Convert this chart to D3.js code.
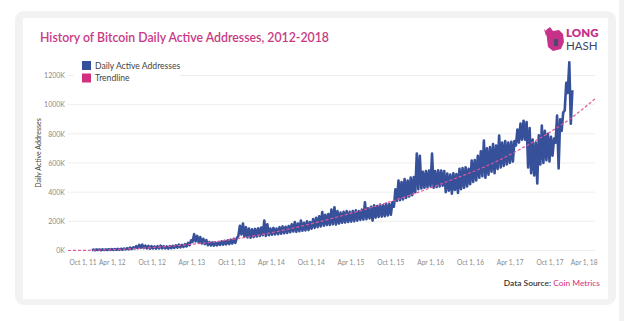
<!DOCTYPE html>
<html>
<head>
<meta charset="utf-8">
<script src="https://cdn.jsdelivr.net/npm/d3@7/dist/d3.min.js"></script>
<style>
  html, body { margin: 0; padding: 0; background: #ffffff; }
  svg { display: block; }
</style>
</head>
<body>
<svg id="chart" width="624" height="321"></svg>
<script>
// Daily active addresses (thousands), sampled as two readings per fortnight
// starting 1 Jan 2012: the fortnight's low, then its high a week later.
const fortnightLow = [
  2,2,3,2,3,3,4, 4,5,5,6, 7,8,10, 14,16,18,16, 14,12,14,13,15, 14,15,13,16,
  18,20,22,24, 28,36, 60, 62,55, 48,44, 36,34,33,35, 38,40,42,45,48,52,
  100,110, 95,90,88,92,96,100, 105,100, 105,108,110, 112,115,118,120,
  125,130,128,132,135,138,140, 150,155,160,165,170,175,
  175,180,178,185,190,192, 195,198,200,205,210,212,215,
  220,205,225,230,232,235,240,245, 300,340, 345,350,360,370,380,
  400,420, 425,430,435,440,430,435,440,445, 400,410,390,415,
  395,420,430,440,455, 470,480,500,510, 500,520,540,530,560,570,580,
  590,600,610, 720,740,760,760, 570, 530,514, 460, 590,600,620,610,
  650, 740, 562,820, 960, 1080, 870
];
const fortnightHigh = [
  6,7,7,8,8,9,10, 10,11,12,14, 16,20,22, 30,38,40,34, 32,30,28,30,33, 30,28,30,32,
  36,40,38,44, 52,70, 112, 100,92, 80,72, 58,55,54,56, 62,66,70,74,80,86,
  170,185, 160,150,145,148,152,158, 205,180, 150,155,150, 160,165,162,168,
  180,195,185,205,190,200,195, 215,225,235,263,245,250,
  280,297,270,260,265,270, 265,270,275,270,280,331,290,
  300,310,305,315,310,320,318,330, 420,480, 470,490,480,500,503,
  665,650, 540,545,548,665,545,550,548,545, 528,520,530,525,
  560,565,570,560,617, 620,650,680,754, 700,710,730,720,788,740,750,
  740,745,750, 830,870,890,880, 840, 760,740, 790, 857,820,800,780,
  767, 925, 900,946, 1150, 1290, 1100
];

// Trendline readings (thousands) at half-year marks
const trendDates = ["2011-09-13","2012-01-01","2012-07-01","2013-01-01","2013-07-01",
  "2014-01-01","2014-07-01","2015-01-01","2015-07-01","2016-01-01","2016-07-01",
  "2017-01-01","2017-07-01","2018-01-01","2018-04-28"];
const trendValues = [0, 2, 12, 30, 57, 97, 150, 218, 293, 380, 480, 590, 730, 900, 1040];

// Axis ticks
const yTicks = [0, 200, 400, 600, 800, 1000, 1200];
const xTickDates = ["2011-10-01","2012-04-01","2012-10-01","2013-04-01","2013-10-01",
  "2014-04-01","2014-10-01","2015-04-01","2015-10-01","2016-04-01","2016-10-01",
  "2017-04-01","2017-10-01","2018-04-01"];

const parse = d3.timeParse("%Y-%m-%d");
const seriesStart = parse("2012-01-01");

const points = [];
fortnightLow.forEach((lo, i) => {
  points.push({ date: d3.timeDay.offset(seriesStart, 14 * i), value: lo });
  points.push({ date: d3.timeDay.offset(seriesStart, 14 * i + 7), value: fortnightHigh[i] });
});
const trend = trendDates.map((d, i) => ({ date: parse(d), value: trendValues[i] }));

const svg = d3.select("#chart");
const FONT = "Lato, 'Open Sans', sans-serif";

// Page background and card
svg.append("rect").attr("x", 619).attr("y", 0).attr("width", 5).attr("height", 321).attr("fill", "#f2f2f2");
svg.append("rect").attr("x", 15).attr("y", 11).attr("width", 601).attr("height", 294)
  .attr("rx", 9).attr("fill", "#f2f2f2");
svg.append("rect").attr("x", 23).attr("y", 18).attr("width", 585).attr("height", 281)
  .attr("fill", "#ffffff");

// Title
svg.append("text")
  .attr("x", 40).attr("y", 42)
  .attr("font-family", FONT)
  .attr("font-size", 12.3).attr("font-weight", 600)
  .attr("fill", "#c83a84")
  .text("History of Bitcoin Daily Active Addresses, 2012-2018");

// Logo
const logo = svg.append("g").attr("transform", "translate(544,27)");
logo.append("path")
  .attr("d", "M2,3 L6,0 L9,4 L15,3 L19,7 L20,15 L17,22 L9,24 L4,20 L3,12 Z")
  .attr("fill", "#c8318a");
logo.append("path").attr("d", "M0,2 L4,6 L2,9 Z").attr("fill", "#c8318a");
logo.append("rect").attr("x", 10).attr("y", 12).attr("width", 4).attr("height", 7).attr("fill", "#4a4a6a");
logo.append("text").attr("x", 22).attr("y", 10)
  .attr("font-family", FONT).attr("font-weight", 800).attr("font-size", 11.5)
  .attr("fill", "#c8318a").text("LONG");
logo.append("text").attr("x", 22).attr("y", 23)
  .attr("font-family", FONT).attr("font-weight", 400).attr("font-size", 11.5)
  .attr("fill", "#3d4566").text("HASH");

// Scales
const x = d3.scaleTime().domain([parse("2011-09-13"), parse("2018-04-28")]).range([68, 595]);
const y = d3.scaleLinear().domain([0, 1200]).range([250.5, 75.5]);

// Gridlines
svg.append("g").selectAll("line").data(yTicks).join("line")
  .attr("x1", 68).attr("x2", 595)
  .attr("y1", d => y(d)).attr("y2", d => y(d))
  .attr("stroke", "#eeeeee").attr("stroke-width", 1);

// Y axis
const yAxis = svg.append("g").attr("transform", "translate(68,0)")
  .call(d3.axisLeft(y).tickValues(yTicks).tickFormat(d => d + "K").tickSize(0).tickPadding(3));
yAxis.select(".domain").remove();
yAxis.selectAll("text").attr("font-family", FONT).attr("font-size", 7).attr("fill", "#8a8a8a");

svg.append("text")
  .attr("transform", "translate(41,153) rotate(-90)")
  .attr("text-anchor", "middle")
  .attr("font-family", FONT).attr("font-size", 7).attr("fill", "#444")
  .text("Daily Active Addresses");

// X axis
const fmt = d3.timeFormat("%b %-d, %y");
const xAxis = svg.append("g").attr("transform", "translate(0,257)")
  .call(d3.axisBottom(x).tickValues(xTickDates.map(parse)).tickFormat(fmt).tickSize(0).tickPadding(3));
xAxis.select(".domain").remove();
xAxis.selectAll("text").attr("font-family", FONT).attr("font-size", 6.6).attr("fill", "#8a8a8a");
// keep the end labels inside the plot
xAxis.selectAll(".tick").each(function(d, i, nodes) {
  const t = d3.select(this).select("text");
  if (i === 0) t.attr("text-anchor", "start").attr("x", 69 - x(d));
  if (i === nodes.length - 1) t.attr("text-anchor", "end").attr("x", 597 - x(d));
});

// Daily active addresses line
svg.append("path")
  .datum(points)
  .attr("fill", "none")
  .attr("stroke", "#36509a")
  .attr("stroke-width", 2.6)
  .attr("stroke-linejoin", "round")
  .attr("d", d3.line().x(d => x(d.date)).y(d => y(d.value)));

// Trendline
svg.append("path")
  .datum(trend)
  .attr("fill", "none")
  .attr("stroke", "#e0559c")
  .attr("stroke-width", 1.2)
  .attr("stroke-dasharray", "3,2")
  .attr("d", d3.line().curve(d3.curveMonotoneX).x(d => x(d.date)).y(d => y(d.value)));

// Legend
const legend = svg.append("g");
legend.append("rect").attr("x", 74).attr("y", 55).attr("width", 106).attr("height", 31).attr("fill", "#ffffff");
const items = [{ label: "Daily Active Addresses", color: "#34509a" }, { label: "Trendline", color: "#d2307f" }];
items.forEach((it, i) => {
  legend.append("rect").attr("x", 82).attr("y", 61 + i * 12.5).attr("width", 9).attr("height", 9).attr("fill", it.color);
  legend.append("text").attr("x", 95).attr("y", 68.5 + i * 12.5)
    .attr("font-family", FONT).attr("font-size", 8.6).attr("fill", "#444").text(it.label);
});

// Source note
const src = svg.append("text").attr("x", 600).attr("y", 286).attr("text-anchor", "end")
  .attr("font-family", FONT).attr("font-size", 8.4);
src.append("tspan").attr("fill", "#333").attr("font-weight", 600).text("Data Source:  ");
src.append("tspan").attr("fill", "#d2307f").text("Coin Metrics");
</script>
</body>
</html>
